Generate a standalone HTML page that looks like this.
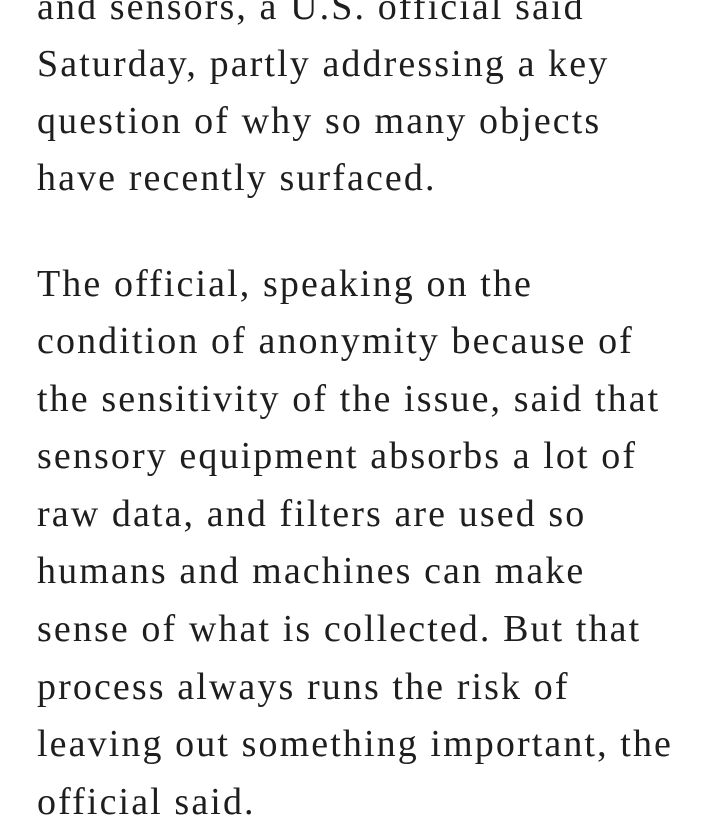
<!DOCTYPE html>
<html><head><meta charset="utf-8">
<style>
html,body{margin:0;padding:0;background:#fff;width:720px;height:824px;overflow:hidden;position:relative}
.l{position:absolute;left:37px;white-space:nowrap;font-family:"Liberation Serif",serif;font-size:38px;line-height:57.5px;letter-spacing:2.1px;color:#1e1e1e;}
</style></head><body>
<div>
<div class="l" style="top:-21px">and sensors, a U.S. official said</div>
<div class="l" style="top:36px">Saturday, partly addressing a key</div>
<div class="l" style="top:93px">question of why so many objects</div>
<div class="l" style="top:150px">have recently surfaced.</div>
</div>
<div>
<div class="l" style="top:256px">The official, speaking on the</div>
<div class="l" style="top:313px">condition of anonymity because of</div>
<div class="l" style="top:371px">the sensitivity of the issue, said that</div>
<div class="l" style="top:428px">sensory equipment absorbs a lot of</div>
<div class="l" style="top:486px">raw data, and filters are used so</div>
<div class="l" style="top:543px">humans and machines can make</div>
<div class="l" style="top:601px">sense of what is collected. But that</div>
<div class="l" style="top:659px">process always runs the risk of</div>
<div class="l" style="top:716px">leaving out something important, the</div>
<div class="l" style="top:774px">official said.</div>
</div>
</body></html>
